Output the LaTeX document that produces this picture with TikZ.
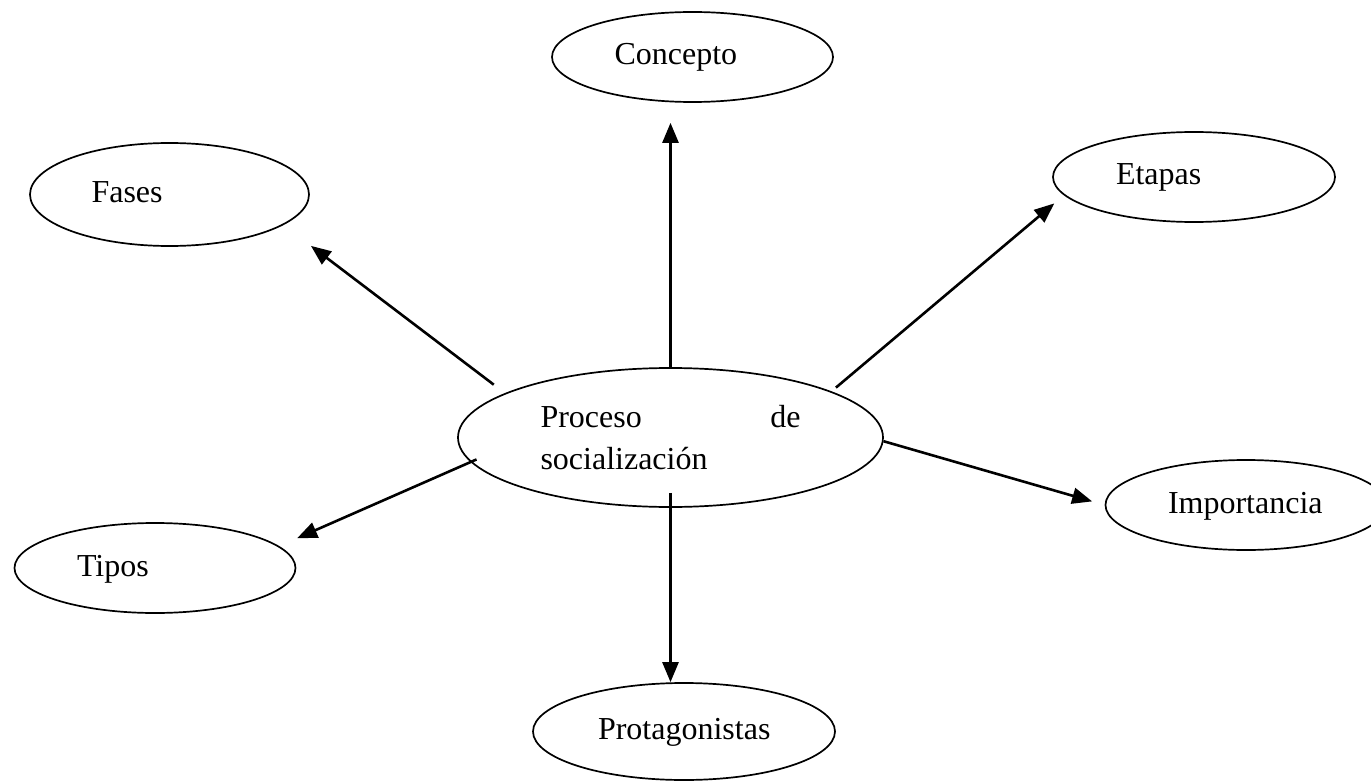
\documentclass[tikz,border=0pt]{standalone}
\usepackage{fontspec}
\setmainfont{Liberation Serif}
\usetikzlibrary{shapes.geometric,arrows.meta}
\begin{document}
\begin{tikzpicture}[x=1pt,y=-1pt,line width=1.7pt,
    font=\fontsize{32}{42}\selectfont,
    link/.style={-{Triangle[length=20pt,width=16pt]},line width=2.6pt}]

    \useasboundingbox (0,0) rectangle (1371,781);

    % the bubbles
    \tikzstyle{bubble}=[ellipse,draw,minimum width=281pt,minimum
      height=90pt,inner sep=0pt,text width=156pt,align=left,text
      height=23pt,text depth=7pt]
    \tikzstyle{topic}=[ellipse,draw,minimum width=425pt,minimum
      height=139pt,inner sep=0pt,text width=260pt,align=left]

    \node[topic] (proceso) at (670.5,437.5) {Proceso\hfill de\\socialización};

    \node[bubble] (concepto) at (692.5,57) {Concepto};
    \node[bubble,minimum width=279pt,minimum height=103pt] (fases) at (169.5,194.5) {Fases};
    \node[bubble,minimum width=282pt] (etapas) at (1194,177) {Etapas};
    \node[bubble] (importancia) at (1246,505) {Importancia};
    \node[bubble] (tipos) at (155,568) {Tipos};
    \node[bubble,minimum width=302pt,minimum height=97pt,text
      width=172pt] (protagonistas) at (684,731.5) {Protagonistas};

    % the arrows
    \draw[link,shorten >=20pt] (proceso.north) -- (proceso.north |- concepto.south);
    \draw[link,shorten <=14pt,shorten >=34.5pt] (proceso.165) -- (fases.-15);
    \draw[link,shorten <=5.8pt,shorten >=12.6pt] (proceso.16) -- (etapas.188);
    \draw[link,shorten >=13pt] (proceso.-1) -- (importancia.west);
    \draw[link,shorten <=-6.5pt,shorten >=19.6pt] (proceso.187) -- (tipos.10);
    \draw[link,shorten <=-15pt] (proceso.south) -- (proceso.south |- protagonistas.north);

  \end{tikzpicture}
\end{document}
